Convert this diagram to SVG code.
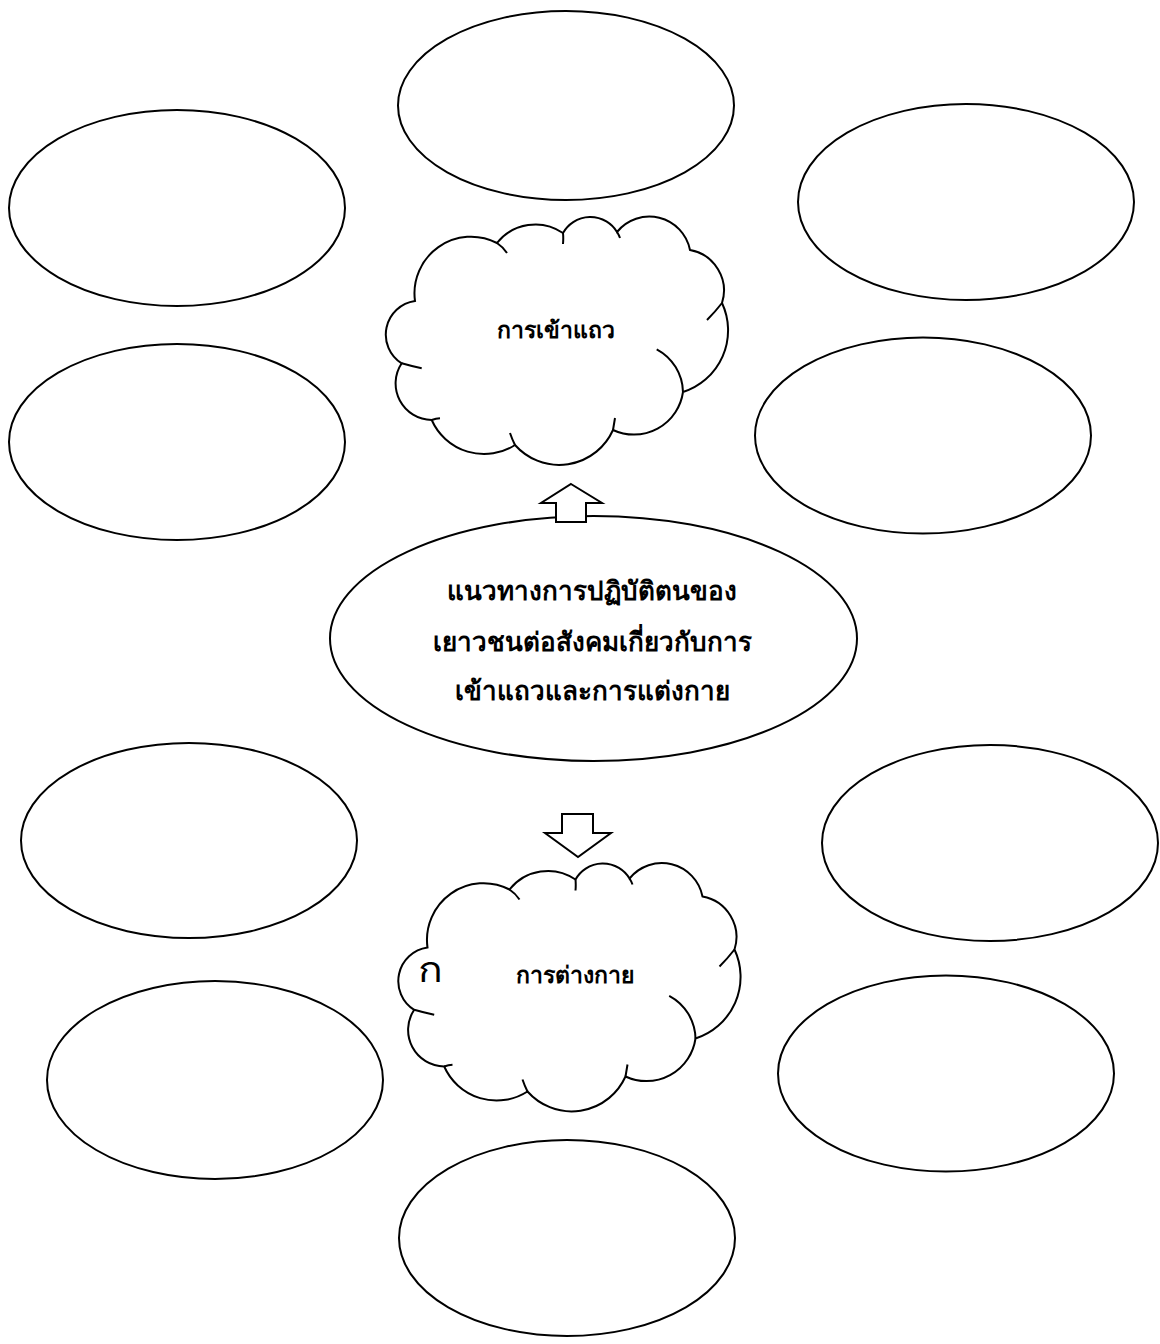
<svg xmlns="http://www.w3.org/2000/svg" xmlns:xlink="http://www.w3.org/1999/xlink" width="1160" height="1344" viewBox="0 0 1160 1344">
<style>
.sh{fill:#fff;stroke:#000;stroke-width:2}
.tl{fill:none;stroke:#000;stroke-width:2}
.ar{fill:#fff;stroke:#000;stroke-width:2;stroke-linejoin:miter}
.t{font-family:'Noto Sans','DejaVu Sans',sans-serif;fill:#000;text-anchor:middle}
.c{font-size:23px;font-weight:bold}
.m{font-size:26px;font-weight:bold}
</style>
<defs>
<g id="cloud">
<path class="sh" d="M15.7 148.3 A33.9 33.9 0 0 1 29 86 A56.6 56.6 0 0 1 111 28 A49 49 0 0 1 177 18 A31.3 31.3 0 0 1 231 17 A41.5 41.5 0 0 1 304 35 A41.2 41.2 0 0 1 336 88 A64.7 64.7 0 0 1 297 177 A49.6 49.6 0 0 1 227 215 A59 59 0 0 1 129 230 A57.3 57.3 0 0 1 45.7 205 A36.5 36.5 0 0 1 15.7 148.3 Z"/>
<path class="tl" d="M15.7 148.3 Q25 151 35.7 153.3 M111 28 Q117 32 121 38 M177 18 Q177.5 23 177 29 M231 17 Q233 20 234 23 M336 88 Q329 97 321 105 M270.7 134.3 A49.6 49.6 0 0 1 297 177 M227 215 Q228 209 229 203 M129 230 Q126 224 124 218 M45.7 205 Q50 203.5 54 203.3"/>
</g>
</defs>
<g id="oval-top"><ellipse class="sh" cx="566" cy="105.5" rx="168" ry="94.5"/></g>
<g id="oval-left1"><ellipse class="sh" cx="177" cy="208" rx="168" ry="98"/></g>
<g id="oval-right1"><ellipse class="sh" cx="966" cy="202" rx="168" ry="98"/></g>
<g id="oval-left2"><ellipse class="sh" cx="177" cy="442" rx="168" ry="98"/></g>
<g id="oval-right2"><ellipse class="sh" cx="923" cy="435.5" rx="168" ry="98"/></g>
<g id="oval-left3"><ellipse class="sh" cx="189" cy="840.5" rx="168" ry="97.5"/></g>
<g id="oval-right3"><ellipse class="sh" cx="990" cy="843" rx="168" ry="98"/></g>
<g id="oval-left4"><ellipse class="sh" cx="215" cy="1080" rx="168" ry="99"/></g>
<g id="oval-right4"><ellipse class="sh" cx="946" cy="1073.5" rx="168" ry="98"/></g>
<g id="oval-bottom"><ellipse class="sh" cx="567" cy="1238" rx="168" ry="98"/></g>
<g id="cloud-queue">
<use xlink:href="#cloud" href="#cloud" transform="translate(386 215)"/>
<text class="t c" x="556" y="338">การเข้าแถว</text>
</g>
<g id="center">
<ellipse class="sh" cx="593.5" cy="638.5" rx="263.5" ry="122.5"/>
<text class="t m" x="592" y="600">แนวทางการปฏิบัติตนของ</text>
<text class="t m" x="592" y="651">เยาวชนต่อสังคมเกี่ยวกับการ</text>
<text class="t m" x="592" y="700">เข้าแถวและการแต่งกาย</text>
</g>
<g id="cloud-dress">
<use xlink:href="#cloud" href="#cloud" transform="translate(398.5 861.5)"/>
<text class="t" x="430.5" y="982" style="font-size:36px" textLength="25" lengthAdjust="spacingAndGlyphs">ก</text>
<text class="t c" x="575" y="983">การต่างกาย</text>
</g>
<g id="connectors">
<path class="ar" d="M571 484 L602 503 L586 503 L586 522 L556 522 L556 503 L541 503 Z"/>
<path class="ar" d="M562 814 L593 814 L593 833 L611 833 L578 857 L545 833 L562 833 Z"/>
</g>
</svg>
